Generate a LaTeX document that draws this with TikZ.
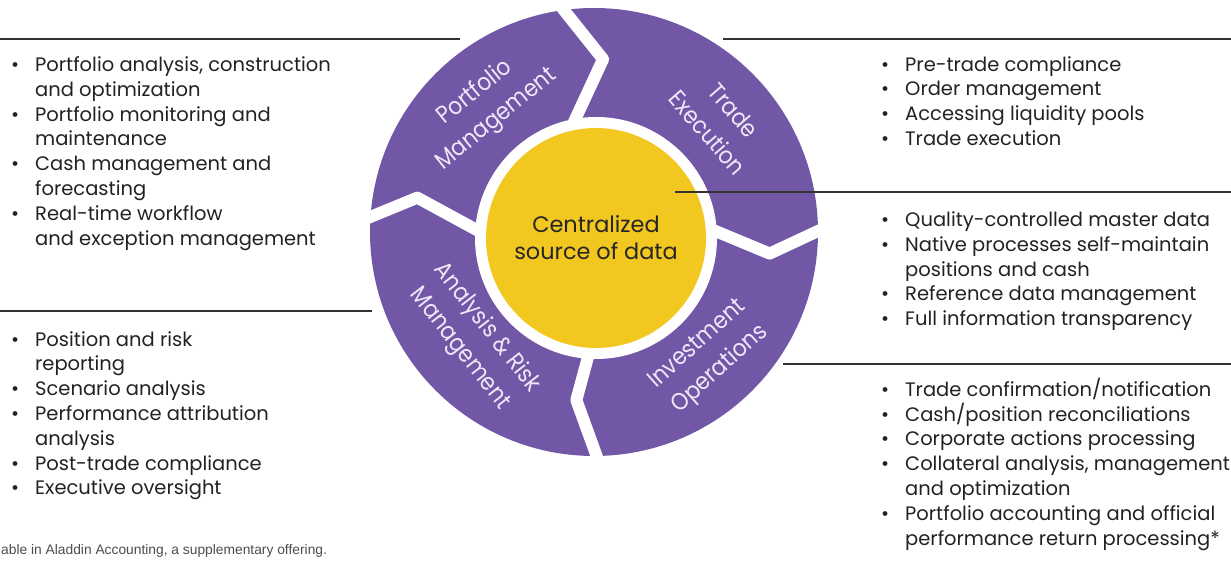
\documentclass[tikz,border=0pt]{standalone}
\usepackage{fontspec}
\setmainfont{Poppins}
\newfontfamily\ringfont[FakeStretch=0.9]{Poppins}
\newfontfamily\notefont{Liberation Sans}
\usetikzlibrary{positioning}
\definecolor{ringpurple}{HTML}{7257A6}
\definecolor{coreyellow}{HTML}{F2C720}
\definecolor{ringtext}{HTML}{EEE7F8}
\definecolor{listtext}{HTML}{222222}
\newcommand{\bl}{\makebox[24pt][l]{\textbullet}}
\newcommand{\cn}{\hspace*{24pt}}
\tikzset{
  lst/.style={anchor=north west, inner sep=0pt, align=left, text=listtext,
    font=\fontsize{19.5}{24.8}\selectfont, execute at begin node=\strut},
  seglabel/.style={align=center, text=ringtext, inner sep=0pt,
    font=\ringfont\fontsize{24}{34}\selectfont},
  rule/.style={line width=1.4pt, draw=black!80},
  gap/.style={line width=12pt, white, line join=round},
}

\begin{document}
\begin{tikzpicture}[x=1pt,y=1pt]
\useasboundingbox (0,0) rectangle (1231,565);
\coordinate (O) at (594,333);
\coordinate (I) at (596,327);
% ring and the four cuts between its segments
\fill[ringpurple] (O) circle (224);
\draw[gap] ([shift={(100:240)}]O) -- ([shift={(87:173)}]O) -- ([shift={(101:110)}]O);
\draw[gap] ([shift={(2:240)}]O) -- ([shift={(-7:177)}]O) -- ([shift={(3:110)}]O);
\draw[gap] ([shift={(-88:240)}]O) -- ([shift={(-96:169)}]O) -- ([shift={(-91:110)}]O);
\draw[gap] ([shift={(178:240)}]O) -- ([shift={(169:180)}]O) -- ([shift={(181:110)}]O);
\fill[white] (I) circle (121);
\node[circle, fill=coreyellow, minimum size=220pt, inner sep=0pt, align=center,
  text=black!85, font=\fontsize{22.4}{27}\selectfont] (core) at (I) {Centralized\\source of data};

\node[seglabel, rotate=39] (pm) at ([shift={(130.6:166)}]O) {Portfolio\\Management};
\node[seglabel, rotate=-49] (te) at ([shift={(41:168)}]O) {Trade\\Execution};
\node[seglabel, rotate=42] (io) at ([shift={(-47.4:170)}]O) {Investment\\Operations};
\node[seglabel, rotate=-52] (arm) at ([shift={(221.4:161)}]O) {Analysis \& Risk\\Management};

% separators
\coordinate (pmL) at (0,526);    \coordinate (pmR) at (460,526);
\coordinate (teL) at (723,526);  \coordinate (teR) at (1231,526);
\coordinate (coreR) at (675,373); \coordinate (dataR) at (1231,373);
\coordinate (armL) at (0,254);   \coordinate (armR) at (372,254);
\coordinate (ioL) at (783,201);  \coordinate (ioR) at (1231,201);
\draw[rule] (pmL) -- (pmR);
\draw[rule] (teL) -- (teR);
\draw[rule] (coreR) -- (dataR);
\draw[rule] (armL) -- (armR);
\draw[rule] (ioL) -- (ioR);

\node[lst] (pmlist) at (11,508.5) {\bl Portfolio analysis, construction\\
  \cn and optimization\\ \bl Portfolio monitoring and\\ \cn maintenance\\
  \bl Cash management and\\ \cn forecasting\\ \bl Real-time workflow\\
  \cn and exception management};
\node[lst] (telist) at (881,509) {\bl Pre-trade compliance\\ \bl Order management\\
  \bl Accessing liquidity pools\\ \bl Trade execution};
\node[lst] (datalist) at (881,353.5) {\bl Quality-controlled master data\\
  \bl Native processes self-maintain\\ \cn positions and cash\\
  \bl Reference data management\\ \bl Full information transparency};
\node[lst] (iolist) at (881,187.2) {\bl Trade confirmation/notification\\
  \bl Cash/position reconciliations\\ \bl Corporate actions processing\\
  \bl Collateral analysis, management\\ \cn and optimization\\
  \bl Portfolio accounting and official\\ \cn performance return processing*};
\node[lst] (armlist) at (11,234) {\bl Position and risk\\ \cn reporting\\
  \bl Scenario analysis\\ \bl Performance attribution\\ \cn analysis\\
  \bl Post-trade compliance\\ \bl Executive oversight};

\node[anchor=base west, inner sep=0pt, text=black!70,
  font=\notefont\fontsize{13.8}{15}\selectfont] (note) at (1,11) {able in Aladdin Accounting, a supplementary offering.};
\end{tikzpicture}
\end{document}
